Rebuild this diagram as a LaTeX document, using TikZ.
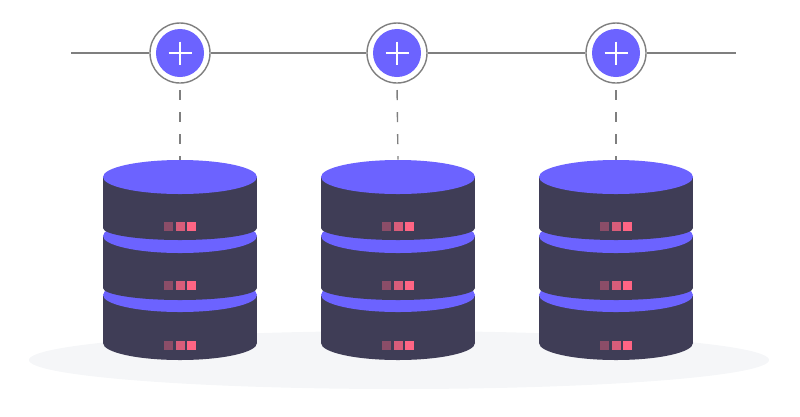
\documentclass[tikz,border=0pt]{standalone}
\usetikzlibrary{shapes.geometric}
\definecolor{dbtop}{HTML}{6C63FF}
\definecolor{dbbody}{HTML}{3F3D56}
\definecolor{dblight}{HTML}{FF6584}
\definecolor{linegray}{HTML}{7F7F7F}
\definecolor{floorgray}{HTML}{F5F6F8}
% one layer of a stack: top of layer, end of its side, depth of its lower edge, height of its lights
\newcommand{\dblayer}[5]{
\fill [dbbody] (#1-77,#2) rectangle (#1+77,#3);
\fill [dbbody] (#1,#3) ellipse [x radius=77,y radius=#4];
\fill [dblight,opacity=0.4] (#1-16.5,#5-4.5) rectangle (#1-7.5,#5+4.5);
\fill [dblight,opacity=0.8] (#1-4.5,#5-4.5) rectangle (#1+4.5,#5+4.5);
\fill [dblight] (#1+7,#5-4.5) rectangle (#1+16,#5+4.5);
}
\begin{document}
\begin{tikzpicture}[x=0.025cm,y=-0.025cm]
\tikzstyle{hub}=[circle,draw=linegray,line width=1pt,fill=white,minimum size=1.5cm,inner sep=0pt];
\tikzstyle{hubin}=[circle,fill=dbtop,minimum size=1.2cm,inner sep=0pt];
\tikzstyle{disk}=[ellipse,fill=dbtop,minimum width=3.85cm,minimum height=0.85cm,inner sep=0pt];
\tikzstyle{wire}=[linegray,line width=1pt];
\tikzstyle{drop}=[linegray,line width=1pt,dash pattern=on 0.25cm off 0.3cm,shorten <=0.175cm];
\tikzstyle{plus}=[white,line width=1.7pt];
\useasboundingbox (0,0) rectangle (800,416);
\fill [floorgray] (399,360) ellipse [x radius=370,y radius=29];

\coordinate (w1) at (71,53);
\coordinate (w2) at (736,53);
\node [hub] (h1) at (180,53) {};
\node [hub] (h2) at (397,53) {};
\node [hub] (h3) at (616,53) {};
\draw [wire] (w1) -- (h1);
\draw [wire] (h1) -- (h2);
\draw [wire] (h2) -- (h3);
\draw [wire] (h3) -- (w2);
\node [hubin] (i1) at (h1) {};
\node [hubin] (i2) at (h2) {};
\node [hubin] (i3) at (h3) {};
\draw [plus] (168.5,53) -- (191.5,53);
\draw [plus] (180,41.5) -- (180,64.5);
\draw [plus] (385.5,53) -- (408.5,53);
\draw [plus] (397,41.5) -- (397,64.5);
\draw [plus] (604.5,53) -- (627.5,53);
\draw [plus] (616,41.5) -- (616,64.5);

\dblayer{180}{296}{343}{17}{345}
\node [disk] (b1) at (180,295) {};
\dblayer{180}{236}{288}{12}{285}
\node [disk] (m1) at (180,236) {};
\dblayer{180}{177}{228}{12}{226}
\node [disk] (t1) at (180,177) {};

\dblayer{398}{296}{343}{17}{345}
\node [disk] (b2) at (398,295) {};
\dblayer{398}{236}{288}{12}{285}
\node [disk] (m2) at (398,236) {};
\dblayer{398}{177}{228}{12}{226}
\node [disk] (t2) at (398,177) {};

\dblayer{616}{296}{343}{17}{345}
\node [disk] (b3) at (616,295) {};
\dblayer{616}{236}{288}{12}{285}
\node [disk] (m3) at (616,236) {};
\dblayer{616}{177}{228}{12}{226}
\node [disk] (t3) at (616,177) {};

\draw [drop] (h1) ++(0,30) -- (t1.north);
\draw [drop] (h2) ++(0,30) -- (t2.north);
\draw [drop] (h3) ++(0,30) -- (t3.north);
\end{tikzpicture}
\end{document}
